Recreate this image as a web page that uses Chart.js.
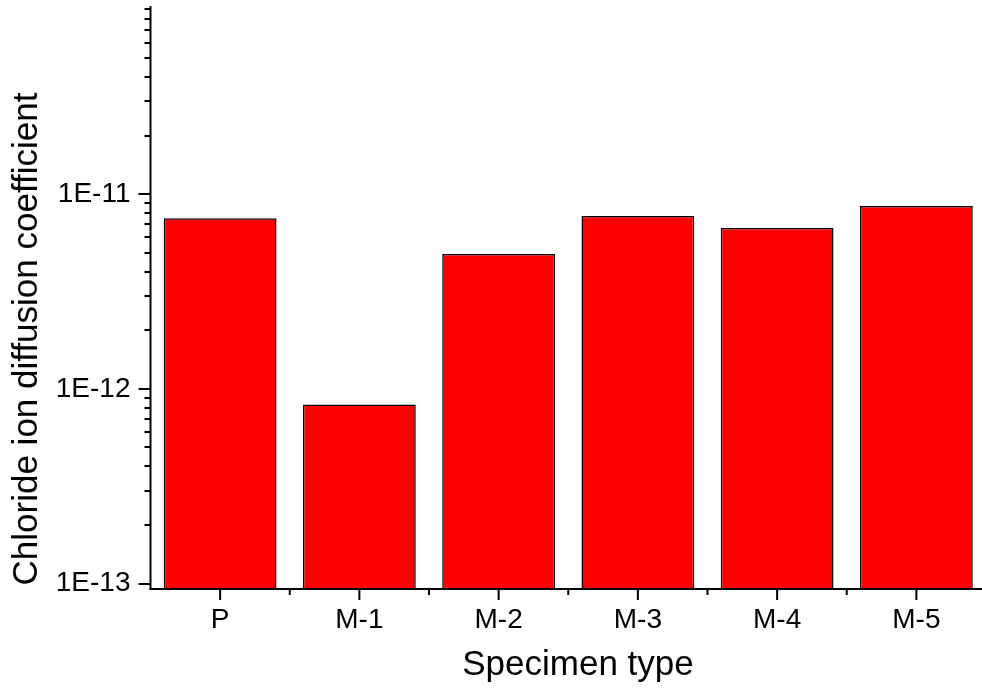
<!DOCTYPE html>
<html>
<head>
<meta charset="utf-8">
<script src="https://cdn.jsdelivr.net/npm/chart.js@4.4.1/dist/chart.umd.min.js"></script>
<style>
  html, body { margin: 0; padding: 0; background: #fff; overflow: hidden; }
  #wrap { width: 986px; height: 690px; }
</style>
</head>
<body>
<div id="wrap"><canvas id="c" width="986" height="690"></canvas></div>
<script>
const categories = ['P', 'M-1', 'M-2', 'M-3', 'M-4', 'M-5'];
const diffusionCoefficient = [7.53e-12, 8.32e-13, 4.93e-12, 7.73e-12, 6.71e-12, 8.71e-12];
const yMajorTicks = [1e-13, 1e-12, 1e-11];
const yTickLabels = ['1E-13', '1E-12', '1E-11'];
const yTitle = 'Chloride ion diffusion coefficient';
const xTitle = 'Specimen type';

const FONT = "'Liberation Sans', Arial, sans-serif";

const axisPlugin = {
  id: 'originAxes',
  afterDraw(chart) {
    const ctx = chart.ctx;
    const ca = chart.chartArea;
    const ys = chart.scales.y;
    const xs = chart.scales.x;
    ctx.save();
    ctx.strokeStyle = '#000';
    ctx.lineWidth = 2;
    ctx.lineCap = 'butt';
    ctx.beginPath();
    ctx.moveTo(ca.left, ca.top);
    ctx.lineTo(ca.left, ca.bottom + 1);
    ctx.stroke();
    ctx.beginPath();
    ctx.moveTo(ca.left - 1, ca.bottom);
    ctx.lineTo(ca.right, ca.bottom);
    ctx.stroke();
    for (let e = -14; e <= -10; e++) {
      for (let k = 1; k <= 9; k++) {
        const v = k * Math.pow(10, e);
        if (v < ys.min || v > ys.max) continue;
        const py = Math.round(ys.getPixelForValue(v));
        const len = k === 1 ? 12 : 6;
        ctx.beginPath();
        ctx.moveTo(ca.left - len, py);
        ctx.lineTo(ca.left, py);
        ctx.stroke();
      }
    }
    for (let i = 0; i < categories.length; i++) {
      const px = xs.getPixelForValue(i);
      ctx.beginPath();
      ctx.moveTo(px, ca.bottom);
      ctx.lineTo(px, ca.bottom + 11);
      ctx.stroke();
      const bx = xs.getPixelForValue(i + 0.5);
      if (bx < chart.width - 2) {
        ctx.beginPath();
        ctx.moveTo(bx, ca.bottom);
        ctx.lineTo(bx, ca.bottom + 6);
        ctx.stroke();
      }
    }
    // axis titles
    ctx.fillStyle = '#000';
    ctx.font = '35px ' + FONT;
    ctx.textAlign = 'center';
    ctx.textBaseline = 'middle';
    ctx.fillText(xTitle, 578, 665);
    ctx.translate(27, 339);
    ctx.rotate(-Math.PI / 2);
    ctx.fillText(yTitle, 0, 0);
    ctx.restore();
  }
};

new Chart(document.getElementById('c'), {
  type: 'bar',
  data: {
    labels: categories,
    datasets: [{
      data: diffusionCoefficient,
      backgroundColor: '#ff0000',
      borderColor: '#000000',
      borderWidth: 1.5,
      barPercentage: 0.81,
      categoryPercentage: 1.0
    }]
  },
  options: {
    responsive: false,
    animation: false,
    devicePixelRatio: 1,
    layout: { padding: { top: 6, left: 0, right: 0, bottom: 0 } },
    plugins: { legend: { display: false }, tooltip: { enabled: false } },
    scales: {
      x: {
        type: 'category',
        offset: true,
        grid: { display: false, drawTicks: false },
        border: { display: false },
        ticks: { color: '#000', font: { family: FONT, size: 28 }, padding: 14, maxRotation: 0 },
        title: { display: false },
        afterFit(s) { s.height = 101; s.paddingLeft = 0; s.paddingRight = 0; }
      },
      y: {
        type: 'logarithmic',
        min: 9.37e-14,
        max: 9.28e-11,
        grid: { display: false, drawTicks: false },
        border: { display: false },
        afterBuildTicks(s) { s.ticks = yMajorTicks.map(v => ({ value: v })); },
        ticks: {
          color: '#000',
          font: { family: FONT, size: 28 },
          padding: 20,
          callback(v) { const i = yMajorTicks.findIndex(t => Math.abs(t - v) / t < 1e-6); return i >= 0 ? yTickLabels[i] : ''; }
        },
        title: { display: false },
        afterFit(s) { s.width = 150.5; s.paddingTop = 0; s.paddingBottom = 0; }
      }
    }
  },
  plugins: [axisPlugin]
});
</script>
</body>
</html>
